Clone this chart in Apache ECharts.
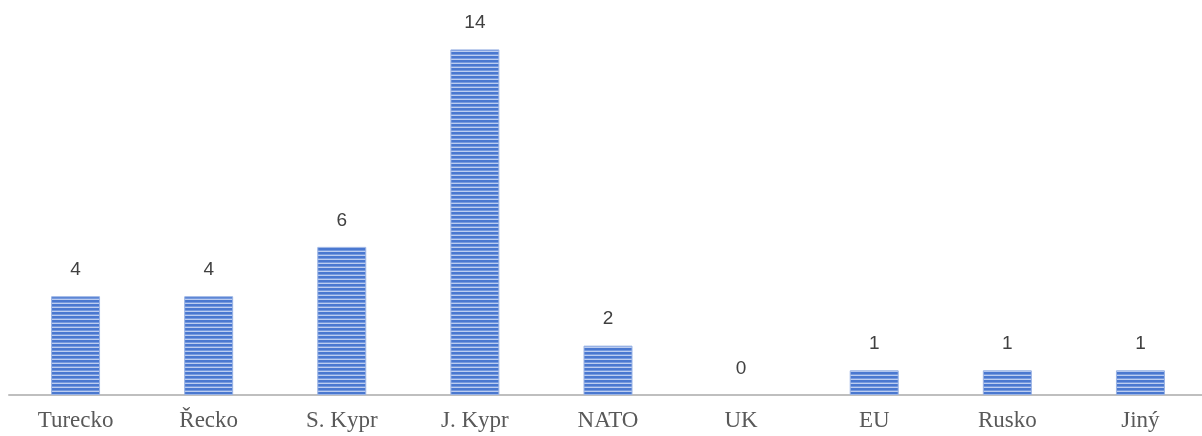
<!DOCTYPE html>
<html>
<head>
<meta charset="utf-8">
<script src="https://cdn.jsdelivr.net/npm/echarts@6/dist/echarts.min.js"></script>
<style>html,body{margin:0;padding:0;background:#fff;overflow:hidden;}#c{width:1210px;height:436px;}</style>
</head>
<body>
<div id="c"></div>
<script>
var categories = ['Turecko', 'Řecko', 'S. Kypr', 'J. Kypr', 'NATO', 'UK', 'EU', 'Rusko', 'Jiný'];
var values = [4, 4, 6, 14, 2, 0, 1, 1, 1];

var pc = document.createElement('canvas');
pc.width = 4; pc.height = 4;
var ctx = pc.getContext('2d');
ctx.fillStyle = '#4A78D0'; ctx.fillRect(0, 0, 4, 4);
ctx.fillStyle = '#7599DE'; ctx.fillRect(0, 2, 4, 1);
ctx.fillStyle = '#BCCDF0'; ctx.fillRect(0, 3, 4, 1);

var chart = echarts.init(document.getElementById('c'), null, {renderer: 'canvas'});
chart.setOption({
  animation: false,
  grid: {left: 9, right: 3, top: 0, height: 395, containLabel: false},
  xAxis: {
    type: 'category',
    data: categories,
    axisLine: {lineStyle: {color: '#BFBFBF', width: 2}},
    axisTick: {show: false},
    axisLabel: {fontFamily: 'Liberation Serif', fontSize: 23, color: '#595959', margin: 14}
  },
  yAxis: {
    type: 'value', min: 0, max: 16,
    show: false,
    splitLine: {show: false}
  },
  series: [{
    type: 'bar',
    data: values.map(function (v) { return v === 0 ? {value: v, itemStyle: {borderWidth: 0}} : v; }),
    barWidth: 49,
    itemStyle: {color: {image: pc, repeat: 'repeat'}, borderColor: '#9AB3E4', borderWidth: 1},
    label: {show: true, position: 'top', distance: 17, fontFamily: 'Liberation Sans', fontSize: 19, color: '#404040'}
  }]
});
</script>
</body>
</html>
